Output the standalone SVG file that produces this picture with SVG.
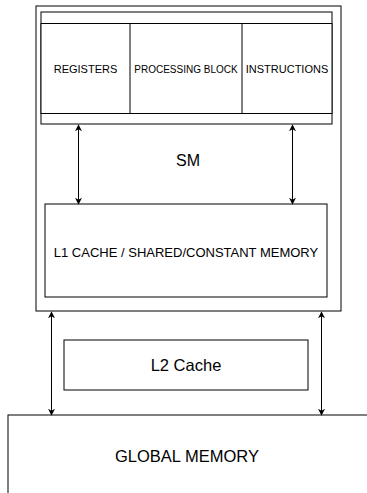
<svg xmlns="http://www.w3.org/2000/svg" width="367" height="493" viewBox="0 0 367 493">
  <style>
    .box { fill: #ffffff; stroke: #000000; stroke-width: 1; }
    .line { fill: none; stroke: #000000; stroke-width: 1; }
    .link { fill: none; stroke: #000000; stroke-width: 1; marker-start: url(#tip); marker-end: url(#tip); }
    text { font-family: "Liberation Sans", Arial, Helvetica, sans-serif; fill: #000000; text-anchor: middle; }
    .s11 { font-size: 11px; }
    .s10 { font-size: 10px; }
    .s13 { font-size: 13px; }
    .s16 { font-size: 16px; }
    .s165 { font-size: 16.5px; }
  </style>
  <defs>
    <marker id="tip" viewBox="0 0 10 10" refX="9" refY="5" markerWidth="7" markerHeight="7" markerUnits="userSpaceOnUse" orient="auto-start-reverse">
      <path d="M0,0 L10,5 L0,10 L3,5 Z" fill="#000000"/>
    </marker>
  </defs>

  <!-- streaming multiprocessor -->
  <g id="sm">
    <rect class="box" x="36" y="6" width="305" height="305"/>
    <text class="s16" x="188" y="165.5">SM</text>
  </g>

  <!-- processing block with register file and instruction unit -->
  <g id="processing-block">
    <rect class="box" x="41" y="12" width="291" height="112"/>
    <line class="line" x1="41" y1="23.5" x2="332" y2="23.5"/>
    <line class="line" x1="41" y1="113.5" x2="332" y2="113.5"/>
    <text class="s10" x="186" y="72.5">PROCESSING BLOCK</text>
  </g>
  <g id="registers">
    <rect class="box" x="41" y="23.5" width="89" height="90"/>
    <text class="s11" x="85.5" y="72.5">REGISTERS</text>
  </g>
  <g id="instructions">
    <rect class="box" x="242" y="23.5" width="90" height="90"/>
    <text class="s11" x="287" y="72.5">INSTRUCTIONS</text>
  </g>

  <!-- on-chip memory -->
  <g id="l1-cache">
    <rect class="box" x="45" y="204" width="282" height="93"/>
    <text class="s13" x="186" y="256.5">L1 CACHE / SHARED/CONSTANT MEMORY</text>
  </g>

  <!-- off-chip hierarchy -->
  <g id="l2-cache">
    <rect class="box" x="64" y="340" width="244" height="50"/>
    <text class="s165" x="186" y="371">L2 Cache</text>
  </g>
  <g id="global-memory">
    <rect class="box" x="8" y="415" width="400" height="100"/>
    <text class="s165" x="187" y="461.5">GLOBAL MEMORY</text>
  </g>

  <!-- connectors -->
  <g id="connectors">
    <line class="link" x1="78.5" y1="125" x2="78.5" y2="204"/>
    <line class="link" x1="292.5" y1="125" x2="292.5" y2="204"/>
    <line class="link" x1="51.5" y1="312" x2="51.5" y2="415"/>
    <line class="link" x1="321.5" y1="312" x2="321.5" y2="415"/>
  </g>
</svg>
